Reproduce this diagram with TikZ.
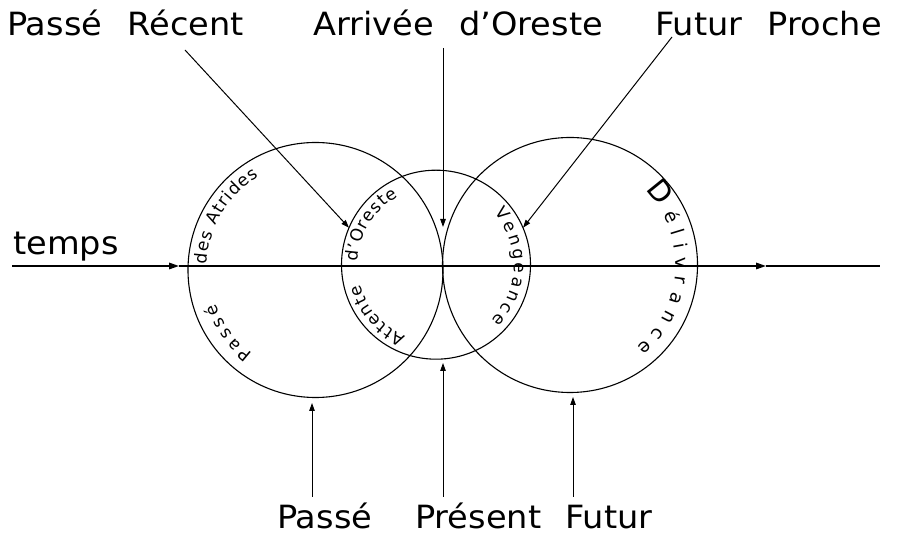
\documentclass[tikz,border=0pt]{standalone}
\usepackage{fontspec}
\setmainfont{DejaVu Sans}
\newfontfamily\lblfont{DejaVu Sans}[WordSpace=2.4, FakeStretch=1.05]
\usetikzlibrary{arrows.meta,decorations.text}
\newcommand{\arcfont}{\fontsize{17}{17}\selectfont}
\newcommand{\delfont}{\fontsize{18.5}{18.5}\selectfont}
\newcommand{\bigDfont}{\fontsize{29}{29}\selectfont}
\begin{document}
\begin{tikzpicture}[x=1pt,y=1pt,
  lbl/.style={font=\lblfont\fontsize{32}{32}\selectfont, anchor=base west, inner sep=0},
  ring/.style={draw, circle, line width=1.1pt, inner sep=0, outer sep=0},
  arr/.style={line width=1pt, -{Triangle[length=8pt,width=5.5pt]}},
  axisln/.style={line width=1.6pt},
  curv/.style={decorate, decoration={text along path, text align=fit to path, text={#1}}}
]
\useasboundingbox (0,0) rectangle (901,537);

% circles
\node[ring, minimum size=255pt] (L) at (315.5,267) {};
\node[ring, minimum size=189pt] (M) at (436,272.3) {};
\node[ring, minimum size=255pt] (R) at (570,272) {};

% time axis
\coordinate (tL) at (12,271);
\coordinate (a1) at (179,271);
\coordinate (a2) at (766,271);
\coordinate (tR) at (880,271);
\draw[axisln, -{Triangle[length=10pt,width=6.5pt]}] (tL) -- (a1);
\draw[axisln, -{Triangle[length=10pt,width=6.5pt]}] (a1) -- (a2);
\draw[axisln] (a2) -- (tR);
\node[lbl] (temps) at (13,282) {temps};

% top labels
\node[lbl] (pr) at (7,501) {Passé Récent};
\node[lbl] (ao) at (313,501) {Arrivée d’Oreste};
\node[lbl] (fp) at (655,501) {Futur Proche};

% bottom labels
\node[lbl] (pa) at (277,8) {Passé};
\node[lbl] (pre) at (415,8) {Présent};
\node[lbl] (fu) at (565,8) {Futur};

% arrow ends
\coordinate (prS) at (185,487);
\coordinate (aoS) at (443,489);
\coordinate (aoT) at (443,310);
\coordinate (fpS) at (672,500);
\coordinate (paS) at (312,40);
\coordinate (paT) at (312,134);
\coordinate (preS) at (443,40);
\coordinate (preT) at (443,174);
\coordinate (fuS) at (573,40);
\coordinate (fuT) at (573,140);

\draw[arr] (prS) -- (M.157);
\draw[arr] (aoS) -- (aoT);
\draw[arr] (fpS) -- (M.23);
\draw[arr] (paS) -- (paT);
\draw[arr] (preS) -- (preT);
\draw[arr] (fuS) -- (fuT);

% curved texts
\path[curv={|\arcfont|des Atrides}] ([shift={(177:109)}]L.center) arc[start angle=177, end angle=121, radius=109];
\path[curv={|\arcfont|Passé}] ([shift={(233:105)}]L.center) arc[start angle=233, end angle=199, radius=105];
\path[curv={|\arcfont|d’Oreste}] ([shift={(178:78)}]M.center) arc[start angle=178, end angle=119, radius=78];
\path[curv={|\arcfont|Attente}] ([shift={(247:78)}]M.center) arc[start angle=247, end angle=195, radius=78];
\path[curv={|\arcfont|Vengeance}] ([shift={(42:78)}]M.center) arc[start angle=42, end angle=-45, radius=78];
\path[curv={|\bigDfont|D|\delfont|élivrance}] ([shift={(45:106)}]R.center) arc[start angle=45, end angle=-51, radius=106];
\end{tikzpicture}
\end{document}
